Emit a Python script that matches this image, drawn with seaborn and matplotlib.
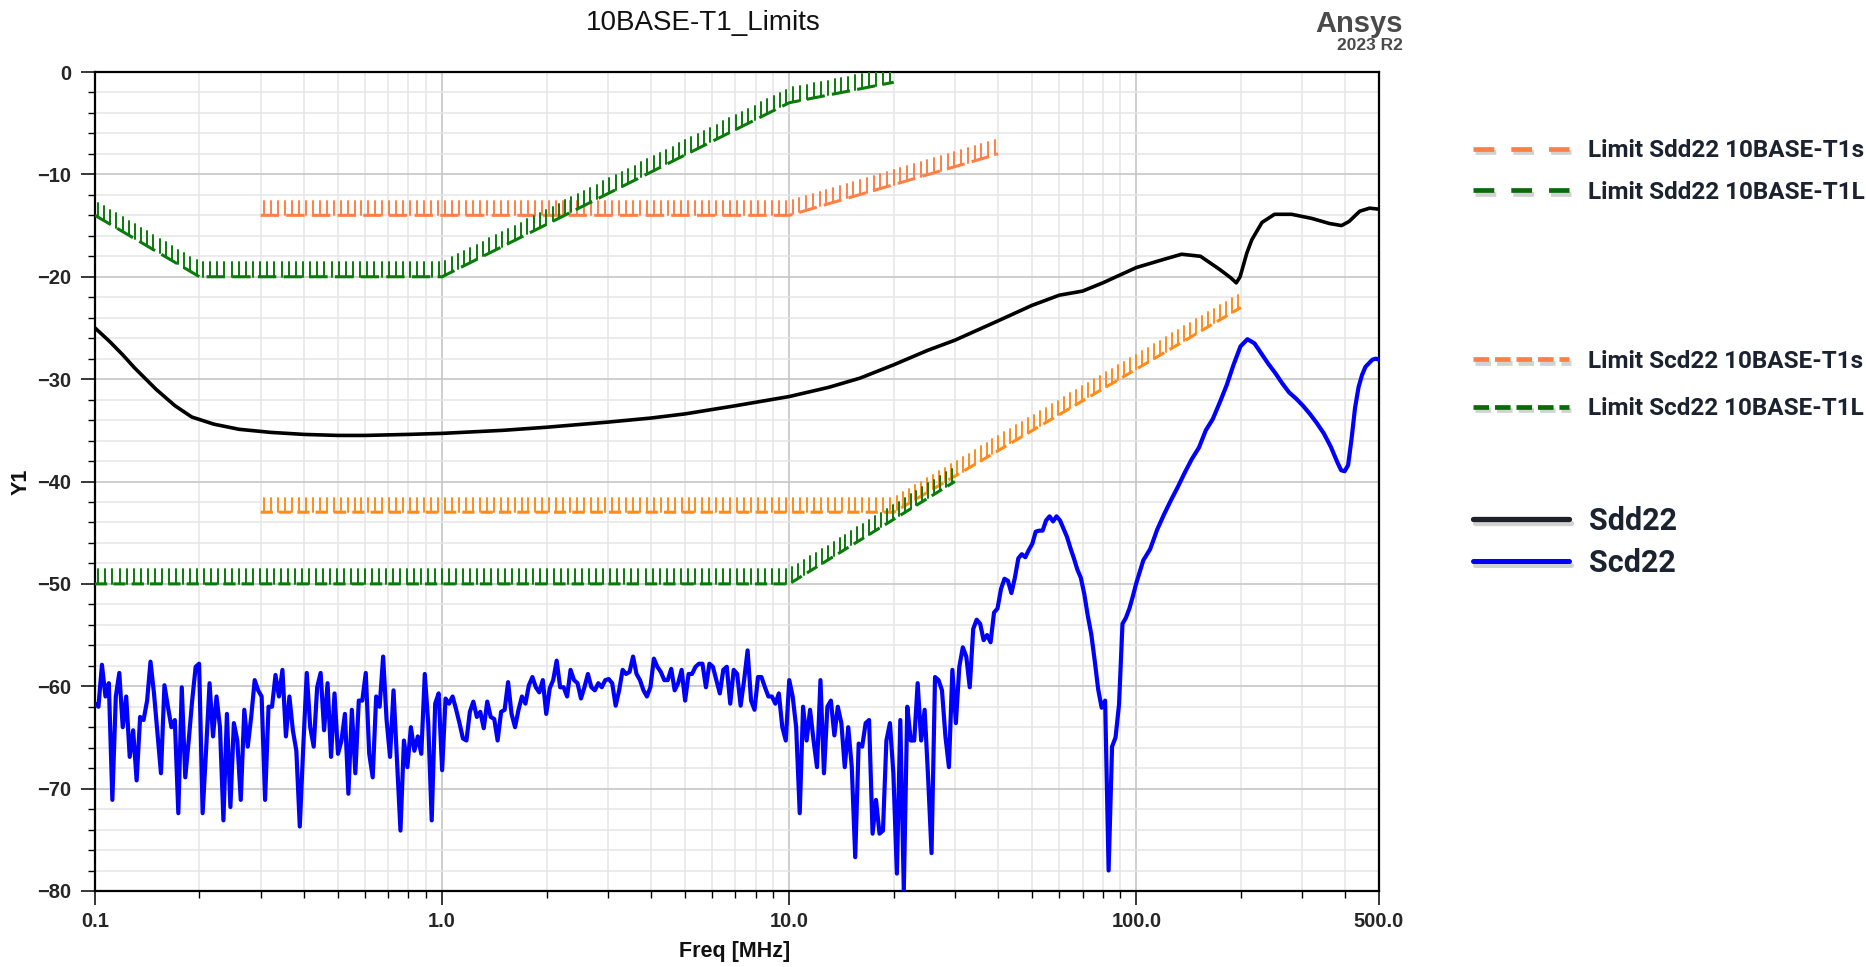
import numpy as np
import matplotlib
matplotlib.use("Agg")
import matplotlib.pyplot as plt
import matplotlib.patheffects as pe
from matplotlib.lines import Line2D
from matplotlib.ticker import FixedLocator, FixedFormatter, MultipleLocator, LogLocator, NullFormatter
import seaborn as sns

# ---------------- data ----------------
title_text = "10BASE-T1_Limits"
x_label = "Freq [MHz]"
y_label = "Y1"
xtick_vals = [0.1, 1.0, 10.0, 100.0, 500.0]
xtick_labels = ["0.1", "1.0", "10.0", "100.0", "500.0"]

# limit lines (freq MHz, dB)
lim_sdd_t1s_f = [0.3, 10.0, 40.0]
lim_sdd_t1s_db = [-14.0, -14.0, -8.0]
lim_sdd_t1l_f = [0.1, 0.2, 1.0, 10.0, 20.0]
lim_sdd_t1l_db = [-14.0, -20.0, -20.0, -3.0, -1.0]
lim_scd_t1s_f = [0.3, 20.0, 200.0]
lim_scd_t1s_db = [-43.0, -43.0, -23.0]
lim_scd_t1l_f = [0.1, 10.0, 30.0]
lim_scd_t1l_db = [-50.0, -50.0, -40.0]

# Sdd22 (black)
sdd22_freq = [0.1, 0.11, 0.12, 0.13, 0.15, 0.17, 0.19, 0.22, 0.26, 0.32, 0.4, 0.5, 0.6, 0.8,
              1.0, 1.5, 2.0, 3.0, 4.0, 5.0, 7.0, 10.0, 13.0, 16.0, 20.0, 25.0, 30.0, 40.0,
              50.0, 60.0, 70.0, 80.0, 100.0, 120.0, 135.0, 153.0, 174.0, 187.0, 194.0, 199.0,
              208.0, 215.0, 230.0, 250.0, 280.0, 320.0, 360.0, 390.0, 410.0, 440.0, 470.0, 500.0]
sdd22_db = [-25.0, -26.3, -27.6, -28.9, -31.0, -32.6, -33.7, -34.4, -34.9, -35.2, -35.4, -35.5, -35.5, -35.4,
            -35.3, -35.0, -34.7, -34.2, -33.8, -33.4, -32.6, -31.7, -30.8, -29.9, -28.6, -27.2, -26.2, -24.3,
            -22.8, -21.8, -21.4, -20.6, -19.1, -18.3, -17.8, -18.0, -19.3, -20.1, -20.6, -20.0,
            -17.7, -16.4, -14.7, -13.9, -13.9, -14.3, -14.8, -15.0, -14.6, -13.6, -13.3, -13.4]

# Scd22 (blue)
scd22_freq = [
    0.1000, 0.1023, 0.1047, 0.1072, 0.1096, 0.1122, 0.1148, 0.1175, 0.1202, 0.1230,
    0.1259, 0.1288, 0.1318, 0.1349, 0.1380, 0.1413, 0.1445, 0.1479, 0.1514, 0.1549,
    0.1585, 0.1622, 0.1660, 0.1698, 0.1738, 0.1778, 0.1820, 0.1862, 0.1905, 0.1950,
    0.1995, 0.2042, 0.2089, 0.2138, 0.2188, 0.2239, 0.2291, 0.2344, 0.2399, 0.2455,
    0.2512, 0.2570, 0.2630, 0.2692, 0.2754, 0.2818, 0.2884, 0.2951, 0.3020, 0.3090,
    0.3162, 0.3236, 0.3311, 0.3388, 0.3467, 0.3548, 0.3631, 0.3715, 0.3802, 0.3890,
    0.3981, 0.4074, 0.4169, 0.4266, 0.4365, 0.4467, 0.4571, 0.4677, 0.4786, 0.4898,
    0.5012, 0.5129, 0.5248, 0.5370, 0.5495, 0.5623, 0.5754, 0.5888, 0.6026, 0.6166,
    0.6310, 0.6457, 0.6607, 0.6761, 0.6918, 0.7079, 0.7244, 0.7413, 0.7586, 0.7762,
    0.7943, 0.8128, 0.8318, 0.8511, 0.8710, 0.8913, 0.9120, 0.9333, 0.9550, 0.9772,
    1.000, 1.023, 1.047, 1.072, 1.096, 1.122, 1.148, 1.175, 1.202, 1.230,
    1.259, 1.288, 1.318, 1.349, 1.380, 1.413, 1.445, 1.479, 1.514, 1.549,
    1.585, 1.622, 1.660, 1.698, 1.738, 1.778, 1.820, 1.862, 1.905, 1.950,
    1.995, 2.042, 2.089, 2.138, 2.188, 2.239, 2.291, 2.344, 2.399, 2.455,
    2.512, 2.570, 2.630, 2.692, 2.754, 2.818, 2.884, 2.951, 3.020, 3.090,
    3.162, 3.236, 3.311, 3.388, 3.467, 3.548, 3.631, 3.715, 3.802, 3.890,
    3.981, 4.074, 4.169, 4.266, 4.365, 4.467, 4.571, 4.677, 4.786, 4.898,
    5.012, 5.129, 5.248, 5.370, 5.495, 5.623, 5.754, 5.888, 6.026, 6.166,
    6.310, 6.457, 6.607, 6.761, 6.918, 7.079, 7.244, 7.413, 7.586, 7.762,
    7.943, 8.128, 8.318, 8.511, 8.710, 8.913, 9.120, 9.333, 9.550, 9.772,
    10.00, 10.23, 10.47, 10.72, 10.96, 11.22, 11.48, 11.75, 12.02, 12.30,
    12.59, 12.88, 13.18, 13.49, 13.80, 14.13, 14.45, 14.79, 15.14, 15.49,
    15.85, 16.22, 16.60, 16.98, 17.38, 17.78, 18.20, 18.62, 19.05, 19.50,
    19.95, 20.42, 20.89, 21.38, 21.88, 22.39, 22.91, 23.44, 23.99, 24.55,
    25.12, 25.70, 26.30, 26.92, 27.54, 28.18, 28.84, 29.51, 30.20, 30.90,
    31.62, 32.36, 33.11, 33.88, 34.67, 35.48, 36.31, 37.15, 38.02, 38.90,
    39.81, 40.74, 41.69, 42.66, 43.65, 44.67, 45.71, 46.77, 47.86, 48.98,
    50.12, 51.29, 52.48, 53.70, 54.95, 56.23, 57.54, 58.88, 60.26, 61.66,
    63.10, 64.57, 66.07, 67.61, 69.18, 70.79, 72.44, 74.13, 75.86, 77.62,
    79.43, 81.28, 83.18, 85.11, 87.10, 89.13, 91.20, 93.33, 95.50, 97.72,
    100.0, 104.7, 109.6, 114.8, 120.2, 125.9, 131.8, 138.0, 144.5, 151.4,
    158.5, 166.0, 173.8, 182.0, 190.5, 199.5, 208.9, 218.8, 229.1, 239.9,
    251.2, 263.0, 275.4, 288.4, 302.0, 316.2, 331.1, 346.7, 363.1, 380.2,
    389.0, 398.1, 407.4, 416.9, 426.6, 436.5, 446.7, 457.1, 478.6, 489.8, 500.0]
scd22_db = [
    -61.7, -62.0, -57.9, -61.0, -59.7, -71.1, -61.0, -58.7, -64.0, -61.0,
    -66.9, -64.3, -69.2, -63.0, -63.3, -61.4, -57.6, -60.7, -64.6, -68.5,
    -59.9, -62.0, -64.0, -63.3, -72.4, -60.1, -68.9, -65.3, -61.4, -58.1,
    -57.8, -72.4, -66.3, -59.7, -64.9, -61.0, -64.0, -73.1, -62.7, -71.8,
    -63.6, -65.3, -71.1, -62.3, -65.9, -63.0, -59.4, -60.4, -61.0, -71.1,
    -62.0, -62.0, -58.9, -61.0, -58.4, -64.9, -61.0, -64.3, -66.3, -73.7,
    -65.9, -58.7, -64.0, -65.9, -60.1, -58.7, -64.3, -59.7, -66.9, -60.7,
    -66.6, -65.3, -62.7, -70.5, -62.3, -68.5, -61.4, -61.4, -58.7, -66.6,
    -68.9, -61.0, -62.0, -57.1, -63.3, -66.9, -60.4, -67.2, -74.1, -65.3,
    -67.9, -64.0, -66.3, -64.9, -66.6, -58.8, -63.6, -73.1, -61.7, -60.7,
    -68.2, -61.2, -61.7, -61.0, -62.2, -63.6, -65.1, -65.3, -62.5, -61.5,
    -63.0, -62.5, -64.1, -61.5, -63.0, -63.2, -65.3, -62.5, -62.3, -59.6,
    -62.7, -64.0, -62.3, -61.0, -61.7, -59.9, -59.1, -60.1, -60.6, -59.4,
    -62.7, -60.2, -59.4, -57.5, -60.1, -60.1, -61.0, -58.4, -59.4, -59.7,
    -61.2, -60.1, -58.8, -60.1, -60.4, -59.7, -60.1, -59.4, -59.3, -59.7,
    -61.9, -60.4, -58.4, -58.8, -58.6, -57.1, -58.8, -59.4, -60.4, -61.0,
    -60.1, -57.3, -58.1, -58.6, -59.4, -59.4, -58.3, -60.4, -59.7, -58.4,
    -61.4, -58.8, -58.8, -58.1, -57.8, -57.8, -60.1, -57.8, -58.1, -59.4,
    -60.7, -58.4, -58.1, -61.7, -58.4, -58.8, -61.9, -59.4, -56.5, -61.4,
    -62.3, -59.1, -59.1, -60.1, -61.0, -61.0, -61.7, -60.7, -64.0, -65.3,
    -59.4, -61.0, -64.0, -72.4, -62.0, -65.3, -62.3, -65.3, -67.9, -59.4,
    -68.5, -62.0, -61.4, -64.8, -62.0, -63.6, -67.9, -64.0, -67.9, -76.7,
    -65.6, -65.9, -63.6, -63.3, -74.4, -71.1, -74.4, -74.1, -65.3, -63.6,
    -68.5, -78.3, -63.3, -80.0, -62.0, -65.3, -65.3, -59.7, -65.3, -62.3,
    -68.9, -76.3, -59.1, -59.4, -60.4, -64.9, -67.9, -58.4, -63.6, -58.1,
    -56.2, -57.1, -60.1, -54.4, -53.5, -53.9, -55.5, -55.0, -55.7, -52.8,
    -52.4, -50.5, -49.5, -49.7, -50.9, -49.4, -47.5, -47.1, -47.4, -46.7,
    -46.1, -44.9, -44.8, -44.8, -43.8, -43.4, -43.9, -43.4, -43.8, -44.6,
    -45.4, -46.5, -47.5, -48.6, -49.4, -51.0, -53.1, -54.9, -57.5, -60.3,
    -62.1, -61.4, -78.0, -65.9, -65.0, -61.8, -53.9, -53.3, -52.4, -51.2,
    -49.9, -47.7, -46.6, -44.7, -43.2, -41.8, -40.5, -39.1, -37.8, -36.7,
    -35.0, -33.9, -32.3, -30.6, -28.6, -26.8, -26.1, -26.5, -27.5, -28.5,
    -29.4, -30.4, -31.3, -31.9, -32.6, -33.4, -34.3, -35.3, -36.6, -38.2,
    -38.9, -39.0, -38.4, -35.8, -32.8, -30.8, -29.6, -28.8, -28.1, -28.0, -28.1]

legend_limit_sdd = ["Limit Sdd22 10BASE-T1s", "Limit Sdd22 10BASE-T1L"]
legend_limit_scd = ["Limit Scd22 10BASE-T1s", "Limit Scd22 10BASE-T1L"]
legend_curves = ["Sdd22", "Scd22"]

# ---------------- style ----------------
C_OR1 = "#ff7f45"
C_OR2 = "#ff8c1a"
C_GRN = "#0a7a0a"
C_BLK = "#000000"
C_BLU = "#0000ff"

sns.set_theme(style="white")
plt.rcParams['font.family'] = ['Liberation Sans', 'DejaVu Sans']

W, H = 1866, 967
fig = plt.figure(figsize=(W / 100, H / 100), dpi=100)
ax = fig.add_axes([95 / W, 1 - 891 / H, (1379 - 95) / W, (891 - 72) / H])
ax.set_xscale('log')
ax.set_xlim(0.1, 500)
ax.set_ylim(-80, 0)

ax.xaxis.set_major_locator(FixedLocator(xtick_vals))
ax.xaxis.set_major_formatter(FixedFormatter(xtick_labels))
ax.xaxis.set_minor_locator(LogLocator(base=10, subs=np.arange(2, 10), numticks=30))
ax.xaxis.set_minor_formatter(NullFormatter())
ax.yaxis.set_major_locator(MultipleLocator(10))
ax.yaxis.set_minor_locator(MultipleLocator(2))
ax.grid(True, which='major', color='#c6c6c6', lw=1.2)
ax.grid(True, which='minor', color='#e6e6e6', lw=1.1)
ax.set_axisbelow(True)
ax.tick_params(which='major', direction='out', length=10, width=1.1, color='black',
               labelsize=14.5, pad=5, bottom=True, left=True)
ax.tick_params(which='minor', direction='out', length=5, width=1.0, color='black',
               bottom=True, left=True)
ax.tick_params(axis='y', which='major', pad=7)
for lab in ax.get_xticklabels() + ax.get_yticklabels():
    lab.set_fontweight('bold')
for sp in ax.spines.values():
    sp.set_color('black')
    sp.set_linewidth(1.6)


def draw_limit(freq, db, color, dash):
    sns.lineplot(x=freq, y=db, color=color, linewidth=2.2, linestyle=(0, dash),
                 estimator=None, sort=False, ax=ax, zorder=3)
    pts = ax.transData.transform(np.column_stack([freq, db]))
    for i in range(len(freq) - 1):
        dx, dy = pts[i + 1] - pts[i]
        ang = np.degrees(np.arctan2(dy, dx))
        ax.plot(freq[i:i + 2], db[i:i + 2], color=color, linewidth=1.4, zorder=3,
                path_effects=[pe.TickedStroke(spacing=5.0, angle=90 - ang, length=2.1)])


draw_limit(lim_sdd_t1s_f, lim_sdd_t1s_db, C_OR1, (6, 2.4))
draw_limit(lim_sdd_t1l_f, lim_sdd_t1l_db, C_GRN, (6, 2.4))
draw_limit(lim_scd_t1s_f, lim_scd_t1s_db, C_OR2, (4, 2))
draw_limit(lim_scd_t1l_f, lim_scd_t1l_db, C_GRN, (4, 2))

sns.lineplot(x=sdd22_freq, y=sdd22_db, color=C_BLK, linewidth=2.6,
             estimator=None, sort=False, ax=ax, zorder=5)
sns.lineplot(x=scd22_freq, y=scd22_db, color=C_BLU, linewidth=3.0,
             estimator=None, sort=False, ax=ax, zorder=5)
ax.set_xlabel("")
ax.set_ylabel("")

# ---------------- texts ----------------
fig.text(703 / W, 1 - 30 / H, title_text, ha='center', va='baseline', fontsize=20, color='#111111')
fig.text(735 / W, 1 - 952 / H, x_label, ha='center', va='center', fontsize=15.5,
         fontweight='bold', color='#111111')
fig.text(21 / W, 1 - 482 / H, y_label, ha='center', va='center', rotation=90, fontsize=15.5,
         fontweight='bold', color='#111111')
fig.text(1403 / W, 1 - 32 / H, "Ansys", ha='right', va='baseline', fontsize=21,
         fontweight='bold', color='#4a4a4a')
fig.text(1403 / W, 1 - 50 / H, "2023 R2", ha='right', va='baseline', fontsize=12.5,
         fontweight='bold', color='#4a4a4a')

# ---------------- legends ----------------
def shadowed():
    return [pe.SimpleLineShadow(offset=(1.5, -2.5), shadow_color='#7f7f7f', alpha=0.35), pe.Normal()]


leg_font_small = {'family': ['Roboto', 'DejaVu Sans'], 'weight': 'bold', 'size': 17.5}
leg_font_big = {'family': ['Roboto', 'DejaVu Sans'], 'weight': 'bold', 'size': 22}

h1 = [Line2D([], [], color=C_OR1, lw=3.4, linestyle=(0, (4.4, 3.6)), path_effects=shadowed()),
      Line2D([], [], color='#0b6b0b', lw=3.4, linestyle=(0, (4.4, 3.6)), path_effects=shadowed())]
h2 = [Line2D([], [], color=C_OR1, lw=3.4, linestyle=(0, (3.3, 1.25)), path_effects=shadowed()),
      Line2D([], [], color='#0b6b0b', lw=3.4, linestyle=(0, (3.3, 1.25)), path_effects=shadowed())]
h3 = [Line2D([], [], color='#1e2228', lw=3.8, path_effects=shadowed()),
      Line2D([], [], color=C_BLU, lw=3.6, path_effects=shadowed())]

common = dict(loc='center left', bbox_transform=fig.transFigure, frameon=False,
              borderpad=0, borderaxespad=0, labelcolor='#1c2330')
fig.legend(handles=h1, labels=legend_limit_sdd, bbox_to_anchor=(1473 / W, 1 - 171.5 / H),
           prop=leg_font_small, handlelength=69 / 17.5, handletextpad=0.8, labelspacing=0.75, **common)
fig.legend(handles=h2, labels=legend_limit_scd, bbox_to_anchor=(1473 / W, 1 - 385 / H),
           prop=leg_font_small, handlelength=69 / 17.5, handletextpad=0.8, labelspacing=1.0, **common)
fig.legend(handles=h3, labels=legend_curves, bbox_to_anchor=(1473 / W, 1 - 542 / H),
           prop=leg_font_big, handlelength=69 / 22, handletextpad=0.65, labelspacing=0.38, **common)

fig.savefig("out.png", dpi=100)
